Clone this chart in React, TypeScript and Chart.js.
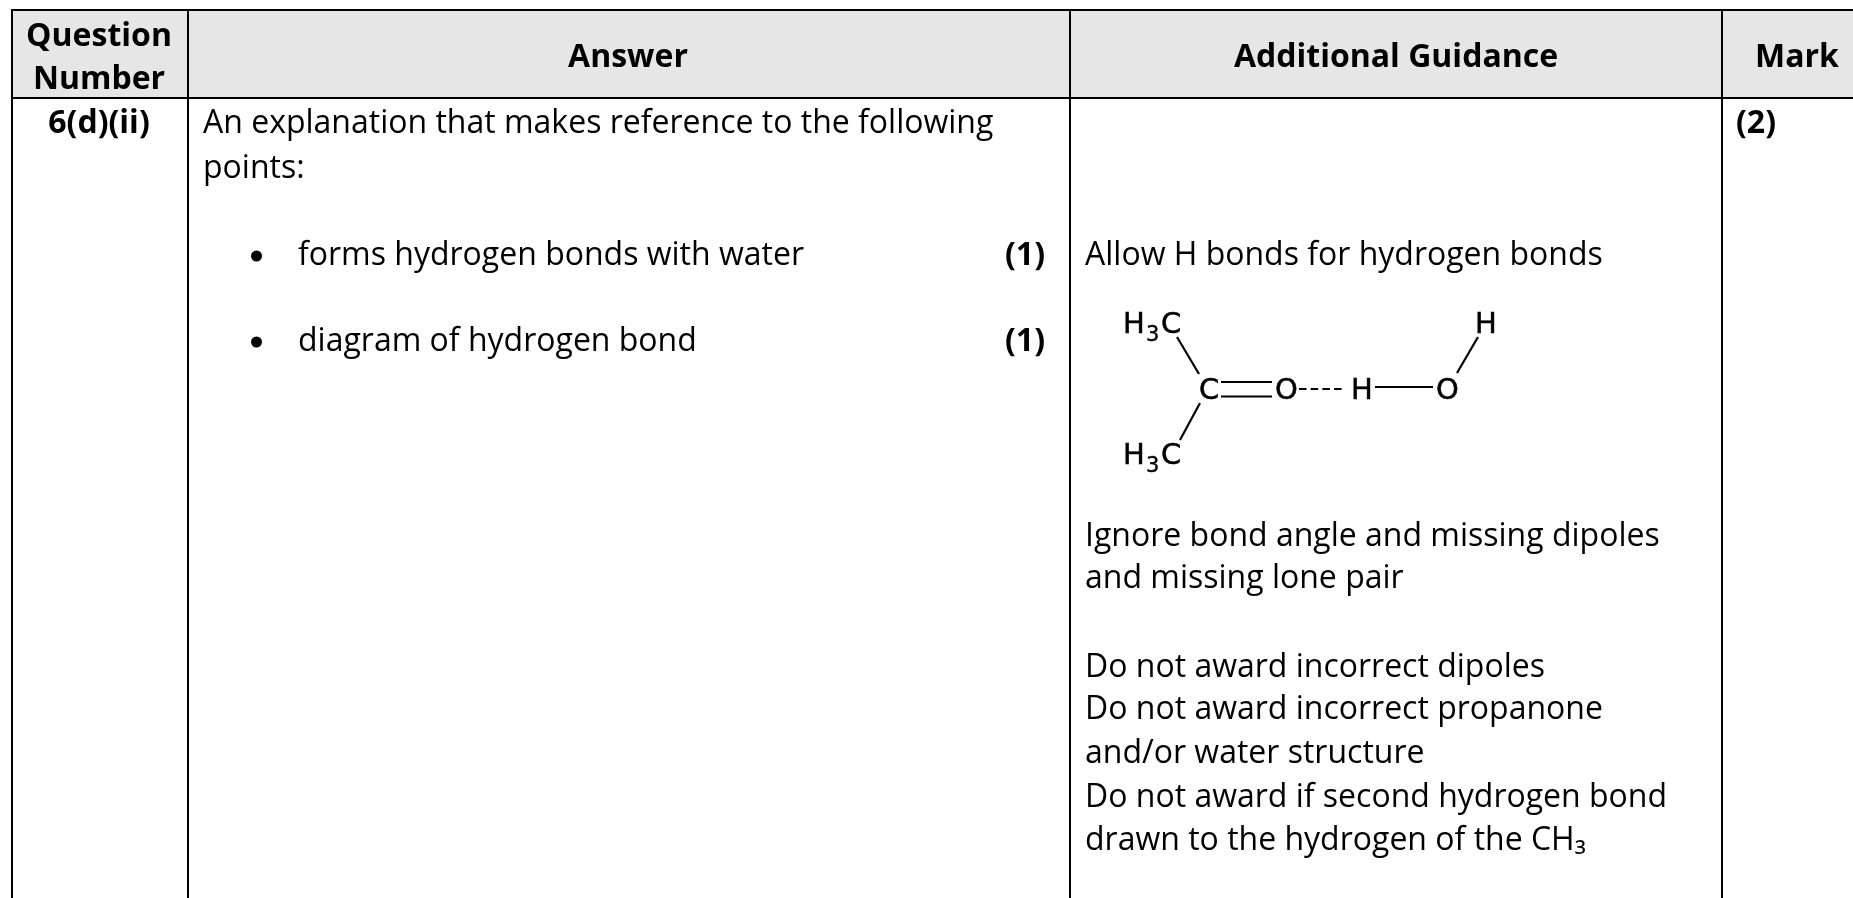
import React, { useEffect, useRef } from "react";
import { Chart, registerables } from "chart.js";

Chart.register(...registerables);

const WIDTH = 1853;
const HEIGHT = 898;
const BODY_FONT = "32px 'Open Sans'";
const BOLD_FONT = "bold 32px 'Open Sans'";
const MOL_FONT = "29px 'DejaVu Sans'";
const SUB_FONT = "21px 'DejaVu Sans'";

type T = [string, number, number];

const headerCentered: T[] = [
  ["Question", 99, 46],
  ["Number", 99, 89],
  ["Answer", 628, 67],
  ["Additional Guidance", 1396, 67],
  ["Mark", 1797, 67],
  ["6(d)(ii)", 99, 133],
];
const boldLeft: T[] = [
  ["(2)", 1736, 133],
  ["(1)", 1005, 265],
  ["(1)", 1005, 351],
];
const bodyLeft: T[] = [
  ["An explanation that makes reference to the following", 203, 133],
  ["points:", 203, 178],
  ["forms hydrogen bonds with water", 298, 265],
  ["diagram of hydrogen bond", 298, 351],
  ["Allow H bonds for hydrogen bonds", 1085, 265],
  ["Ignore bond angle and missing dipoles", 1085, 546],
  ["and missing lone pair", 1085, 588],
  ["Do not award incorrect dipoles", 1085, 677],
  ["Do not award incorrect propanone", 1085, 719],
  ["and/or water structure", 1085, 763],
  ["Do not award if second hydrogen bond", 1085, 807],
  ["drawn to the hydrogen of the CH₃", 1085, 850],
];
const moleculeAtoms: T[] = [
  ["H", 1123, 333],
  ["C", 1161, 333],
  ["H", 1123, 464],
  ["C", 1161, 464],
  ["C", 1199, 399],
  ["O", 1275, 399],
  ["H", 1351, 399],
  ["O", 1436, 399],
  ["H", 1475, 333],
];
const moleculeSubscripts: T[] = [
  ["3", 1146, 341],
  ["3", 1146, 472],
];

const headerBand = [
  { x: 12, y: 10 },
  { x: WIDTH, y: 10 },
];
const headerBase = 98;
const tableRules = [
  [{ x: 11, y: 10 }, { x: WIDTH, y: 10 }],
  [{ x: 11, y: 98 }, { x: WIDTH, y: 98 }],
  [{ x: 12, y: 9 }, { x: 12, y: HEIGHT }],
  [{ x: 188, y: 10 }, { x: 188, y: HEIGHT }],
  [{ x: 1070, y: 10 }, { x: 1070, y: HEIGHT }],
  [{ x: 1722, y: 10 }, { x: 1722, y: HEIGHT }],
];
const bullets = [
  { x: 256.5, y: 256 },
  { x: 256.5, y: 342 },
];
const bonds = [
  [{ x: 1177, y: 337 }, { x: 1199, y: 374 }],
  [{ x: 1200, y: 403 }, { x: 1180, y: 440 }],
  [{ x: 1221, y: 382 }, { x: 1272, y: 382 }],
  [{ x: 1221, y: 396.5 }, { x: 1272, y: 396.5 }],
  [{ x: 1375, y: 387 }, { x: 1433, y: 387 }],
  [{ x: 1457, y: 373 }, { x: 1478, y: 337 }],
];
const hydrogenBond = [
  { x: 1299, y: 389 },
  { x: 1342, y: 389 },
];

const textPlugin = {
  id: "tableText",
  afterDatasetsDraw(chart: any) {
    const { ctx, scales } = chart;
    const draw = (items: T[], font: string, align: CanvasTextAlign, stroke = 0) => {
      ctx.save();
      ctx.font = font;
      ctx.fillStyle = "#000000";
      ctx.strokeStyle = "#000000";
      ctx.lineWidth = stroke;
      ctx.textAlign = align;
      ctx.textBaseline = "alphabetic";
      for (const [s, x, y] of items) {
        const px = scales.x.getPixelForValue(x);
        const py = scales.y.getPixelForValue(y);
        ctx.fillText(s, px, py);
        if (stroke > 0) ctx.strokeText(s, px, py);
      }
      ctx.restore();
    };
    draw(headerCentered, BOLD_FONT, "center");
    draw(boldLeft, BOLD_FONT, "left");
    draw(bodyLeft, BODY_FONT, "left");
    draw(moleculeAtoms, MOL_FONT, "left", 0.5);
    draw(moleculeSubscripts, SUB_FONT, "left", 0.4);
  },
};

export default function App() {
  const ref = useRef<HTMLCanvasElement | null>(null);
  useEffect(() => {
    document.body.style.margin = "0";
    document.body.style.background = "#ffffff";
    const line = (data: any[], width: number, extra: any = {}) => ({
      type: "line",
      data,
      borderColor: "#000000",
      borderWidth: width,
      pointRadius: 0,
      fill: false,
      clip: false,
      order: 1,
      ...extra,
    });
    const chart = new Chart(ref.current as HTMLCanvasElement, {
      type: "scatter",
      data: {
        datasets: [
          line(headerBand, 0, {
            borderColor: "transparent",
            backgroundColor: "#e6e6e6",
            fill: { value: headerBase },
            order: 10,
          }),
          ...tableRules.map((r) => line(r, 2)),
          ...bonds.map((b) => line(b, 2.2)),
          line(hydrogenBond, 2.2, { borderDash: [7.5, 4.2] }),
          {
            type: "scatter",
            data: bullets,
            pointRadius: 5.5,
            pointBackgroundColor: "#000000",
            pointBorderWidth: 0,
            order: 1,
          },
        ],
      } as any,
      options: {
        animation: false,
        responsive: false,
        layout: { padding: 0, autoPadding: false },
        plugins: { legend: { display: false }, tooltip: { enabled: false } },
        events: [],
        scales: {
          x: { type: "linear", display: false, min: 0, max: WIDTH },
          y: { type: "linear", display: false, min: 0, max: HEIGHT, reverse: true },
        },
      },
      plugins: [textPlugin],
    } as any);
    return () => chart.destroy();
  }, []);
  return (
    <canvas
      ref={ref}
      width={WIDTH}
      height={HEIGHT}
      style={{ display: "block", width: WIDTH, height: HEIGHT, background: "#ffffff" }}
    />
  );
}
